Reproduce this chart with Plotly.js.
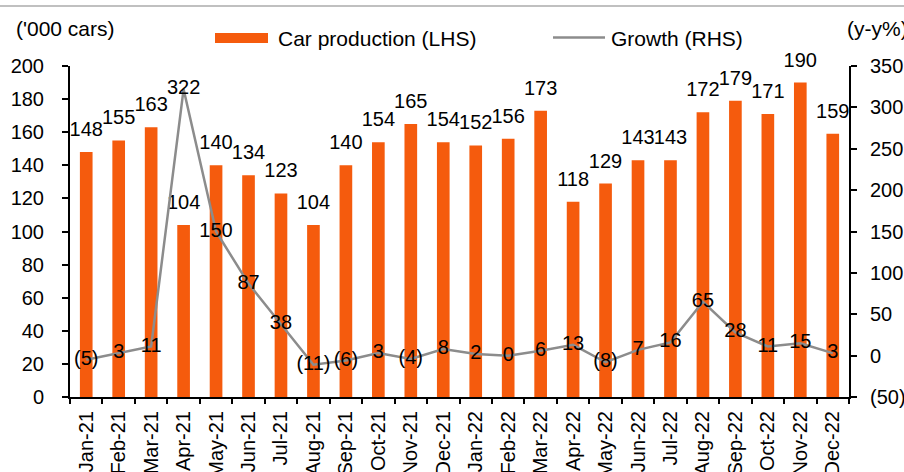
<!DOCTYPE html>
<html>
<head>
<meta charset="utf-8">
<script src="https://cdn.plot.ly/plotly-3.0.1.min.js"></script>
<style>html,body{margin:0;padding:0;background:#fff;}#chart{width:904px;height:472px;}</style>
</head>
<body>
<div id="chart"></div>
<script>
const months = ["Jan-21","Feb-21","Mar-21","Apr-21","May-21","Jun-21","Jul-21","Aug-21","Sep-21","Oct-21","Nov-21","Dec-21",
                "Jan-22","Feb-22","Mar-22","Apr-22","May-22","Jun-22","Jul-22","Aug-22","Sep-22","Oct-22","Nov-22","Dec-22"];
const production = [148,155,163,104,140,134,123,104,140,154,165,154,152,156,173,118,129,143,143,172,179,171,190,159];
const growth = [-5,3,11,322,150,87,38,-11,-6,3,-4,8,2,0,6,13,-8,7,16,65,28,11,15,3];
const rightTickVals = [-50,0,50,100,150,200,250,300,350];
const rightTickText = ["(50)","0","50","100","150","200","250","300","350"];

const fmt = v => v < 0 ? "(" + (-v) + ")" : String(v);
const FONT = "Arial, 'Liberation Sans', sans-serif";
const ORANGE = "#F55B0D";
const GREY = "#8C8C8C";

const traces = [
  {
    type: "bar", x: months, y: production, name: "Car production (LHS)",
    marker: {color: ORANGE}, hoverinfo: "x+y", showlegend: false
  },
  {
    type: "scatter", mode: "markers+text", x: months, y: production,
    text: production.map(String), textposition: "top center",
    textfont: {family: FONT, size: 20, color: "#000"},
    marker: {size: 16, color: "rgba(0,0,0,0)"}, hoverinfo: "skip", showlegend: false,
    cliponaxis: false
  },
  {
    type: "scatter", mode: "lines+text", x: months, y: growth, yaxis: "y2", name: "Growth (RHS)",
    line: {color: GREY, width: 2.5},
    text: growth.map(fmt), textposition: "middle center",
    textfont: {family: FONT, size: 20, color: "#000"},
    showlegend: false, cliponaxis: false
  }
];

const layout = {
  width: 904, height: 472,
  margin: {l: 70, r: 55, t: 66, b: 75},
  paper_bgcolor: "#fff", plot_bgcolor: "#fff",
  font: {family: FONT, size: 20, color: "#000"},
  bargap: 0.61,
  showlegend: false,
  xaxis: {
    type: "category", range: [-0.5, months.length - 0.5], autorange: false,
    tickson: "boundaries", ticks: "outside", ticklen: 5, tickwidth: 2, tickcolor: "#000",
    showline: true, linecolor: "#000", linewidth: 2, showgrid: false, zeroline: false,
    tickangle: -90, tickfont: {family: FONT, size: 20, color: "#000"}, ticklabelstandoff: 4
  },
  yaxis: {
    range: [0, 200], autorange: false, dtick: 20, ticks: "outside", ticklen: 6, tickwidth: 2, tickcolor: "#000",
    showline: true, linecolor: "#000", linewidth: 2, showgrid: false, zeroline: false,
    tickfont: {family: FONT, size: 20, color: "#000"}, ticklabelstandoff: 14
  },
  yaxis2: {
    overlaying: "y", side: "right", range: [-50, 350], autorange: false,
    tickvals: rightTickVals, ticktext: rightTickText,
    ticks: "outside", ticklen: 6, tickwidth: 2, tickcolor: "#000",
    showline: true, linecolor: "#000", linewidth: 2, showgrid: false, zeroline: false,
    tickfont: {family: FONT, size: 20, color: "#000"}, ticklabelstandoff: 9
  },
  shapes: [
    {type: "line", xref: "paper", yref: "paper", x0: -70/779, x1: 834/779, y0: 1 + 60/331, y1: 1 + 60/331,
     line: {color: "#C0C0C0", width: 2}},
    {type: "rect", xref: "paper", yref: "paper", x0: 145/779, x1: 198/779, y0: 1 + 23/331, y1: 1 + 33/331,
     fillcolor: ORANGE, line: {width: 0}},
    {type: "line", xref: "paper", yref: "paper", x0: 483/779, x1: 535/779, y0: 1 + 28.5/331, y1: 1 + 28.5/331,
     line: {color: GREY, width: 2.5}}
  ],
  annotations: [
    {text: "('000 cars)", xref: "paper", yref: "paper", x: -56/779, y: 1 + 38/331, xanchor: "left", yanchor: "middle",
     showarrow: false, font: {family: FONT, size: 21, color: "#000"}},
    {text: "(y-y%)", xref: "paper", yref: "paper", x: 775/779, y: 1 + 38/331, xanchor: "left", yanchor: "middle",
     showarrow: false, font: {family: FONT, size: 21, color: "#000"}},
    {text: "Car production (LHS)", xref: "paper", yref: "paper", x: 206/779, y: 1 + 28/331, xanchor: "left", yanchor: "middle",
     showarrow: false, font: {family: FONT, size: 21, color: "#000"}},
    {text: "Growth (RHS)", xref: "paper", yref: "paper", x: 539/779, y: 1 + 28/331, xanchor: "left", yanchor: "middle",
     showarrow: false, font: {family: FONT, size: 21, color: "#000"}}
  ]
};

Plotly.newPlot("chart", traces, layout, {displayModeBar: false, staticPlot: true});
</script>
</body>
</html>
